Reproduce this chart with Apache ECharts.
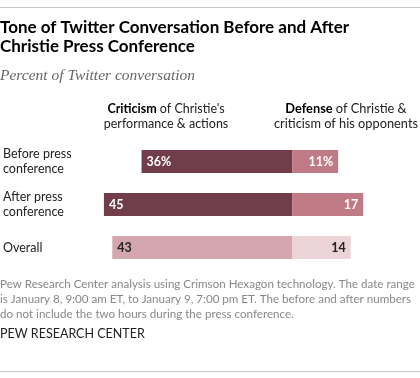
<!DOCTYPE html>
<html><head><meta charset="utf-8">
<script src="https://cdn.jsdelivr.net/npm/echarts@6/dist/echarts.min.js"></script>
<style>html,body{margin:0;padding:0;background:#fff}#c{width:420px;height:378px}</style>
</head><body><div id="c"></div>
<script>
var categories = ['Before press\nconference', 'After press\nconference', 'Overall'];
var criticism = [36, 45, 43];
var defense = [11, 17, 14];
var percentRow = 0;

var darkCols = ['#723d4a', '#723d4a', '#d3a7ad'];
var lightCols = ['#c07a86', '#c07a86', '#ebd3d7'];
var labelCols = ['#fff', '#fff', '#222'];

var chart = echarts.init(document.getElementById('c'), null, {renderer: 'canvas'});
var font = 'Lato, Roboto, "Liberation Sans", sans-serif';
function fmt(p) { return Math.abs(p.value) + (p.dataIndex === percentRow ? '%' : ''); }

chart.setOption({
  animation: false,
  grid: {left: 80, top: 140, width: 337.6, height: 129, containLabel: false},
  xAxis: {type: 'value', min: -50, max: 30, show: false},
  yAxis: {
    type: 'category', data: categories, inverse: true,
    axisLine: {show: false, onZero: false}, axisTick: {show: false}, splitLine: {show: false},
    axisLabel: {align: 'left', margin: 80, color: '#222', fontFamily: font, fontSize: 12.5, lineHeight: 15}
  },
  series: [
    {
      type: 'bar', stack: 't', barWidth: 23,
      data: criticism.map(function (v, i) { return {value: -v, label: {color: labelCols[i]}}; }),
      itemStyle: {color: function (p) { return darkCols[p.dataIndex]; }},
      label: {show: true, position: 'insideLeft', distance: 5, formatter: fmt, fontFamily: font, fontSize: 12.5, fontWeight: 'bold'}
    },
    {
      type: 'bar', stack: 't', barWidth: 23,
      data: defense.map(function (v, i) { return {value: v, label: {color: labelCols[i]}}; }),
      itemStyle: {color: function (p) { return lightCols[p.dataIndex]; }},
      label: {show: true, position: 'insideRight', distance: 5, formatter: fmt, fontFamily: font, fontSize: 12.5, fontWeight: 'bold'}
    }
  ],
  graphic: [
    {type: 'rect', shape: {x: 0, y: 7, width: 420, height: 1}, style: {fill: '#c8c8c8'}},
    {type: 'rect', shape: {x: 0, y: 371, width: 420, height: 1}, style: {fill: '#c8c8c8'}},
    {type: 'text', x: 0, y: 18, style: {text: 'Tone of Twitter Conversation Before and After\nChristie Press Conference', fill: '#000', font: 'bold 17px ' + font, lineHeight: 19}},
    {type: 'text', x: 0, y: 68, style: {text: 'Percent of Twitter conversation', fill: '#666', font: 'italic 15.5px "Liberation Serif", "DejaVu Serif", serif'}},
    {type: 'text', x: 166, y: 101, style: {
      text: '{b|Criticism} of Christie\'s\nperformance & actions', align: 'center', fill: '#222', font: '12.5px ' + font, lineHeight: 15,
      rich: {b: {fontWeight: 'bold', fontFamily: font, fontSize: 12.5, fill: '#000'}}}},
    {type: 'text', x: 346, y: 101, style: {
      text: '{b|Defense} of Christie &\ncriticism of his opponents', align: 'center', fill: '#222', font: '12.8px ' + font, lineHeight: 15,
      rich: {b: {fontWeight: 'bold', fontFamily: font, fontSize: 12.8, fill: '#000'}}}},
    {type: 'text', x: 0, y: 277, style: {
      text: 'Pew Research Center analysis using Crimson Hexagon technology. The date range\nis January 8, 9:00 am ET, to January 9, 7:00 pm ET. The before and after numbers\ndo not include the two hours during the press conference.',
      fill: '#888', font: '11.6px ' + font, lineHeight: 15}},
    {type: 'text', x: 0, y: 327, style: {text: 'PEW RESEARCH CENTER', fill: '#222', font: '12.5px ' + font}}
  ]
});
</script></body></html>
